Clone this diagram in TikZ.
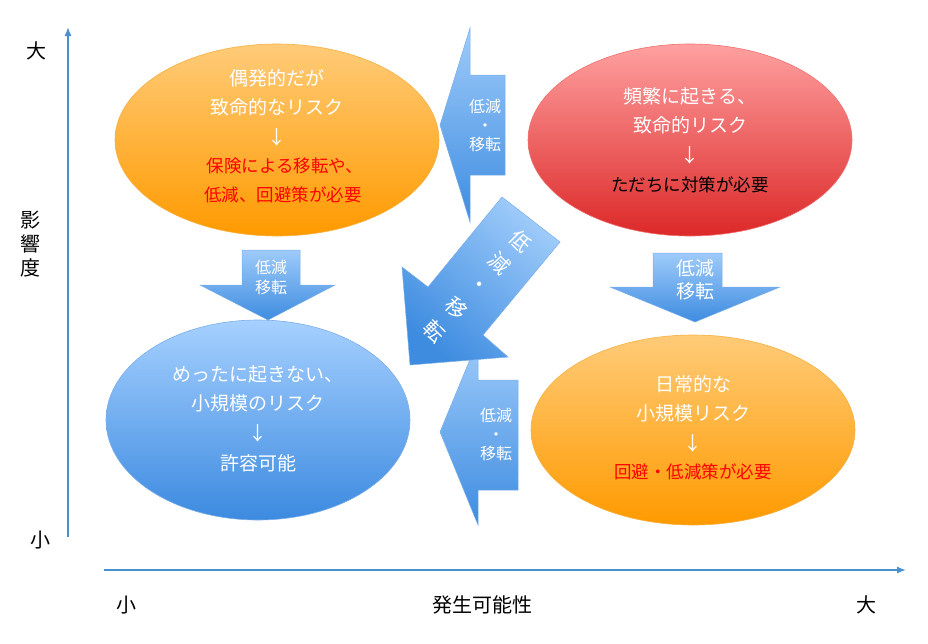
\documentclass[tikz,border=0pt]{standalone}
\usepackage{fontspec}
\setmainfont{Noto Sans CJK JP}
\usetikzlibrary{arrows.meta}
\definecolor{axisblue}{HTML}{4A8FD0}
\definecolor{redtxt}{HTML}{FF0000}
\definecolor{otop}{HTML}{FFCB78}
\definecolor{obot}{HTML}{FF9A00}
\definecolor{oedge}{HTML}{F5B040}
\definecolor{rtop}{HTML}{FFA0A0}
\definecolor{rbot}{HTML}{DC2828}
\definecolor{redge}{HTML}{F07070}
\definecolor{btop}{HTML}{A6D0FF}
\definecolor{bbot}{HTML}{3C8AE0}
\definecolor{bedge}{HTML}{7AAEE8}
\definecolor{atop}{HTML}{9ECBFA}
\definecolor{abot}{HTML}{3E8CE0}
\tikzset{
  x=1pt,y=-1pt,
  axis/.style={draw=axisblue,line width=1.4pt,-{Latex[length=9pt,width=7pt]}},
  orangeell/.style={top color=otop,bottom color=obot},
  redell/.style={top color=rtop,bottom color=rbot},
  blueell/.style={top color=btop,bottom color=bbot},
  barrow/.style={top color=atop,bottom color=abot,draw=bedge,line width=0.5pt},
  etxt/.style={font=\fontsize{19}{22}\selectfont,text=white},
  rtxt/.style={font=\fontsize{17.5}{21}\selectfont,text=redtxt},
  atxt/.style={font=\fontsize{16}{19}\selectfont,text=white},
  ltxt/.style={font=\fontsize{20}{24}\selectfont},
}
\begin{document}
\begin{tikzpicture}
\useasboundingbox (0,0) rectangle (928,643);
% axes
\coordinate (ya) at (68,537); \coordinate (yb) at (68,27);
\coordinate (xa) at (104,570); \coordinate (xb) at (906,570);
\draw[axis] (ya) -- (yb);
\draw[axis] (xa) -- (xb);
\node[ltxt] (big1) at (36,51) {大};
\node[ltxt] (small1) at (40,540) {小};
\node[ltxt,align=center,inner sep=0pt] (impact) at (30,244) {影\\響\\度};
\node[ltxt] (small2) at (126,605) {小};
\node[ltxt] (prob) at (482,605) {発生可能性};
\node[ltxt] (big2) at (866,605) {大};
% ellipses
\shade[orangeell] (277,140) ellipse [x radius=162,y radius=96];
\shade[redell] (690,140) ellipse [x radius=162,y radius=96];
\shade[blueell] (258,420) ellipse [x radius=152,y radius=100];
\shade[orangeell] (693,430) ellipse [x radius=162,y radius=95];
\draw[oedge,line width=0.6pt] (277,140) ellipse [x radius=162,y radius=96];
\draw[redge,line width=0.6pt] (690,140) ellipse [x radius=162,y radius=96];
\draw[bedge,line width=0.6pt] (258,420) ellipse [x radius=152,y radius=100];
\draw[oedge,line width=0.6pt] (693,430) ellipse [x radius=162,y radius=95];
% ellipse texts
\node[etxt] (tl1) at (277,78) {偶発的だが};
\node[etxt] (tl2) at (277,107) {致命的なリスク};
\node[etxt] (tl3) at (277,137) {↓};
\node[rtxt] (tl4) at (285,166) {保険による移転や、};
\node[rtxt] (tl5) at (283,195) {低減、回避策が必要};
\node[etxt] (tr1) at (690,96) {頻繁に起きる、};
\node[etxt] (tr2) at (690,125) {致命的リスク};
\node[etxt] (tr3) at (690,155) {↓};
\node[rtxt,text=black] (tr4) at (690,185) {ただちに対策が必要};
\node[etxt] (bl1) at (258,374) {めったに起きない、};
\node[etxt] (bl2) at (258,403) {小規模のリスク};
\node[etxt] (bl3) at (258,433) {↓};
\node[etxt] (bl4) at (258,463) {許容可能};
\node[etxt] (br1) at (693,384) {日常的な};
\node[etxt] (br2) at (693,413) {小規模リスク};
\node[etxt] (br3) at (693,443) {↓};
\node[rtxt] (br4) at (693,472) {回避・低減策が必要};
% left-pointing arrow top
\shade[barrow] (505,75) -- (470,75) -- (470,28) -- (440,125) -- (470,222) -- (470,175) -- (505,175) -- cycle;
\node[atxt,align=center] (a1) at (485,125) {低減\\・\\移転};
% left-pointing arrow bottom
\shade[barrow] (518,380) -- (478,380) -- (478,340) -- (440,432) -- (478,525) -- (478,490) -- (518,490) -- cycle;
\node[atxt,align=center] (a2) at (496,434) {低減\\・\\移転};
% down arrow left
\shade[barrow] (242,250) -- (300,250) -- (300,285) -- (335,285) -- (268,320) -- (200,285) -- (242,285) -- cycle;
\node[atxt,align=center,font=\fontsize{16}{20}\selectfont] (a3) at (271,277) {低減\\移転};
% down arrow right
\shade[barrow] (653,253) -- (722,253) -- (722,287) -- (780,287) -- (695,322) -- (610,287) -- (653,287) -- cycle;
\node[atxt,align=center,font=\fontsize{19}{23}\selectfont] (a4) at (695,280) {低減\\移転};
% diagonal arrow
\shade[top color=atop,bottom color=abot,shading angle=-40,draw=bedge,line width=0.5pt] (502,197) -- (560,242) -- (483,335) -- (508,357) -- (410,365) -- (402,267) -- (428,287) -- cycle;
\foreach \c/\i in {低/0,減/1,・/2,移/3,転/4}{
  \node[atxt,font=\fontsize{21}{21}\selectfont,rotate=-45,inner sep=0pt] (d\i) at (521-21.5*\i,241+22.5*\i) {\c};
}
\end{tikzpicture}
\end{document}
